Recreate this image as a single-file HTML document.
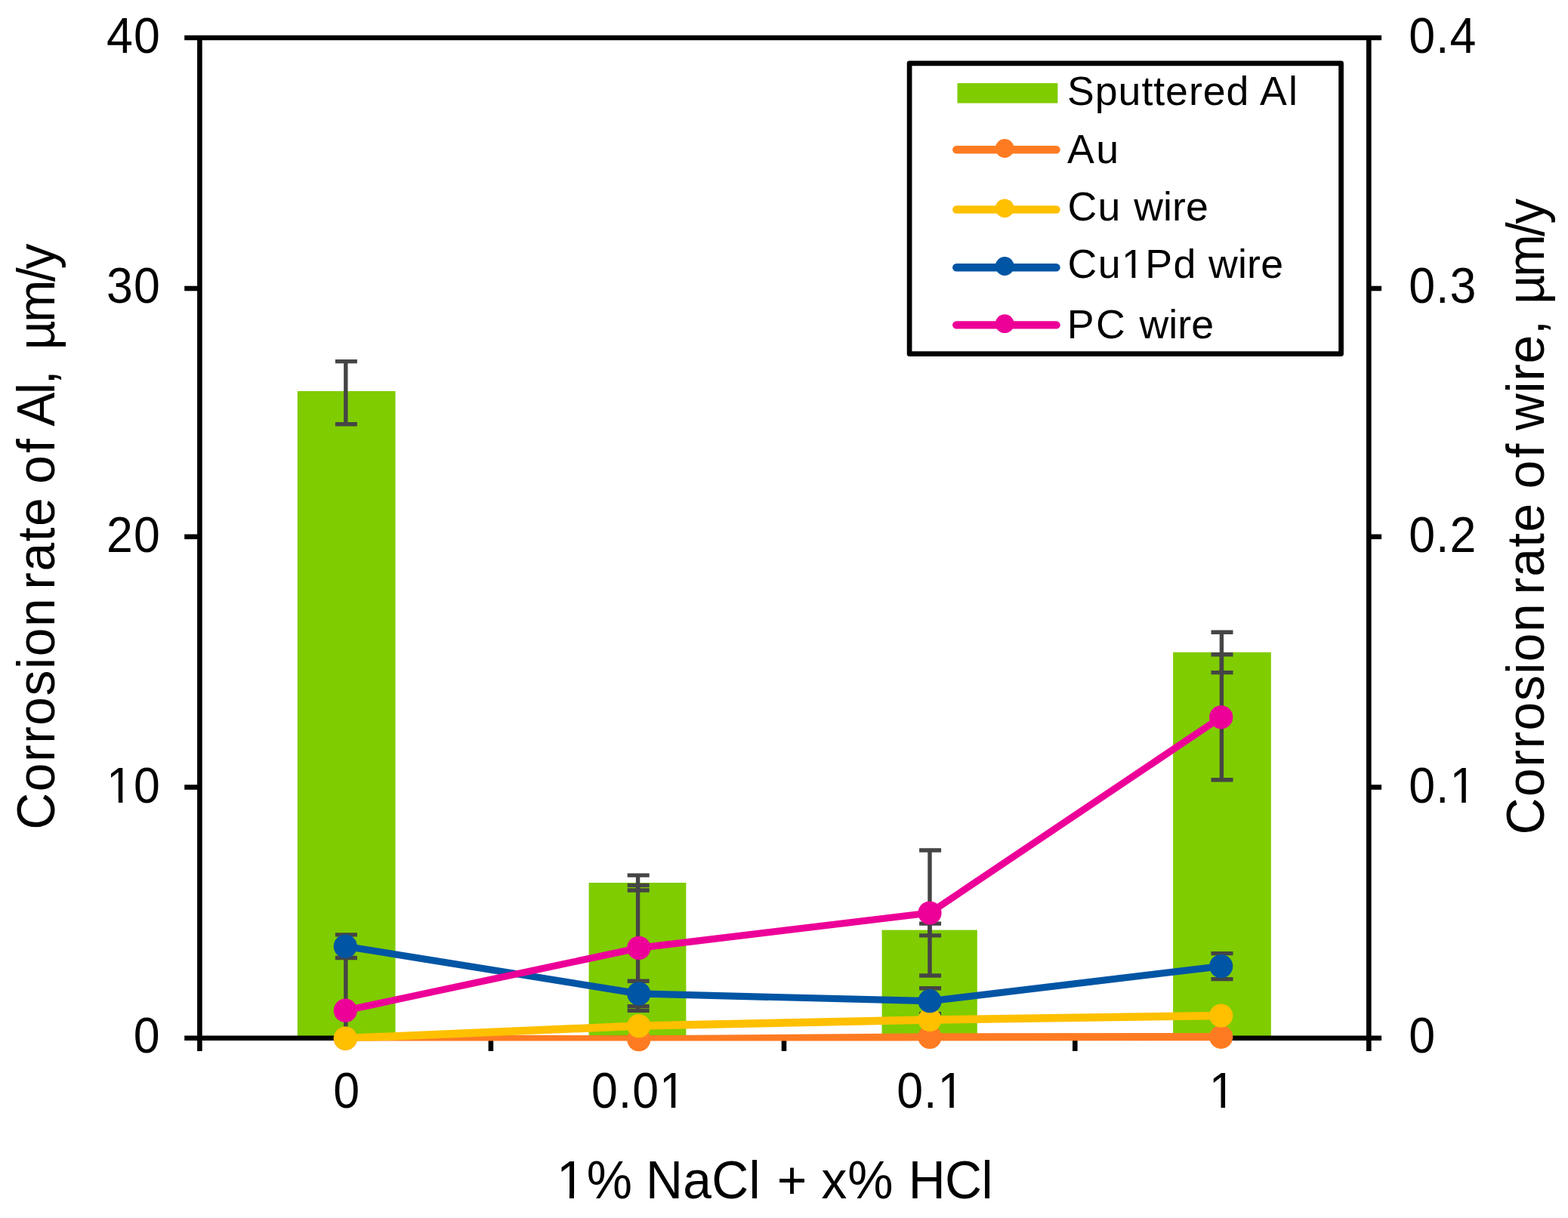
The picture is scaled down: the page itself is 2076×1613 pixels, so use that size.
<!DOCTYPE html>
<html lang="en"><head><meta charset="utf-8"><title>Corrosion rate</title>
<style>
html,body{margin:0;padding:0;background:#fff;}
body{width:2076px;height:1613px;overflow:hidden;}
svg{display:block;}
text{font-family:"Liberation Sans",sans-serif;fill:#000;}
</style></head><body>
<svg width="2076" height="1613" viewBox="0 0 2076 1613">
<defs><clipPath id="plot"><rect x="264.4" y="40.0" width="1547.9" height="1338.6"/></clipPath></defs>
<rect x="0" y="0" width="2076" height="1613" fill="#ffffff"/>
<g fill="#7fcc00">
<rect x="393.8" y="518.0" width="129.7" height="856.8"/>
<rect x="779.6" y="1169.0" width="128.8" height="205.8"/>
<rect x="1167.6" y="1231.6" width="126.2" height="143.2"/>
<rect x="1553.1" y="863.8" width="129.7" height="511.0"/>
</g>
<g fill="none" stroke="#454545" stroke-width="5.4">
<path d="M457.8 478.6V561.8M443.9 478.6H472.9M443.9 561.8H472.9"/>
<path d="M844.6 1159.1V1179.0M830.7 1159.1H859.7M830.7 1179.0H859.7"/>
<path d="M1231.0 1223.1V1238.9M1217.1 1223.1H1246.1M1217.1 1238.9H1246.1"/>
<path d="M1617.4 837.2V890.6M1603.5 837.2H1632.5M1603.5 890.6H1632.5"/>
<path d="M457.8 1237.9V1268.5M443.9 1237.9H472.9M443.9 1268.5H472.9"/>
<path d="M844.6 1299.2V1332.6M830.7 1299.2H859.7M830.7 1332.6H859.7"/>
<path d="M1231.0 1308.8V1342.6M1217.1 1308.8H1246.1M1217.1 1342.6H1246.1"/>
<path d="M1617.4 1262.6V1296.6M1603.5 1262.6H1632.5M1603.5 1296.6H1632.5"/>
<path d="M457.8 1255.2V1374.8M443.9 1255.2H472.9"/>
<path d="M844.6 1172.4V1338.4M830.7 1172.4H859.7M830.7 1338.4H859.7"/>
<path d="M1231.0 1126.0V1292.0M1217.1 1126.0H1246.1M1217.1 1292.0H1246.1"/>
<path d="M1617.4 866.8V1032.8M1603.5 866.8H1632.5M1603.5 1032.8H1632.5"/>
</g>
<g fill="none" stroke="#000" stroke-width="6.6">
<path d="M244.2 50.0H1829.1"/>
<path d="M244.2 1374.8H1829.1"/>
<path d="M264.4 50.0V1391.9"/>
<path d="M1812.3 50.0V1391.9"/>
<path d="M244.2 382.0H264.4"/>
<path d="M1812.3 382.0H1829.1"/>
<path d="M244.2 710.8H264.4"/>
<path d="M1812.3 710.8H1829.1"/>
<path d="M244.2 1042.5H264.4"/>
<path d="M1812.3 1042.5H1829.1"/>
<path d="M649.9 1374.8V1391.9"/>
<path d="M1038.0 1374.8V1391.9"/>
<path d="M1423.3 1374.8V1391.9"/>
</g>
<polyline clip-path="url(#plot)" points="457.3,1375.2 845.8,1376.6 1231.0,1373.4 1616.7,1373.3" fill="none" stroke="#ff7b22" stroke-width="10.5" stroke-linejoin="round" stroke-linecap="round"/>
<g fill="#ff7b22"><circle cx="457.3" cy="1375.2" r="15.6"/><circle cx="845.8" cy="1376.6" r="15.6"/><circle cx="1231.0" cy="1373.4" r="15.6"/><circle cx="1616.7" cy="1373.3" r="15.6"/></g>
<polyline clip-path="url(#plot)" points="457.3,1375.1 845.8,1358.6 1231.0,1350.5 1616.7,1345.0" fill="none" stroke="#ffc000" stroke-width="10.5" stroke-linejoin="round" stroke-linecap="round"/>
<g fill="#ffc000"><circle cx="457.3" cy="1375.1" r="15.6"/><circle cx="845.8" cy="1358.6" r="15.6"/><circle cx="1231.0" cy="1350.5" r="15.6"/><circle cx="1616.7" cy="1345.0" r="15.6"/></g>
<polyline clip-path="url(#plot)" points="457.3,1253.2 845.8,1315.9 1231.0,1325.7 1616.7,1279.6" fill="none" stroke="#0055a4" stroke-width="9.2" stroke-linejoin="round" stroke-linecap="round"/>
<g fill="#0055a4"><circle cx="457.3" cy="1253.2" r="15.6"/><circle cx="845.8" cy="1315.9" r="15.6"/><circle cx="1231.0" cy="1325.7" r="15.6"/><circle cx="1616.7" cy="1279.6" r="15.6"/></g>
<polyline clip-path="url(#plot)" points="457.3,1338.2 845.8,1255.4 1231.0,1209.0 1616.7,949.8" fill="none" stroke="#ec0098" stroke-width="9.2" stroke-linejoin="round" stroke-linecap="round"/>
<g fill="#ec0098"><circle cx="457.3" cy="1338.2" r="15.6"/><circle cx="845.8" cy="1255.4" r="15.6"/><circle cx="1231.0" cy="1209.0" r="15.6"/><circle cx="1616.7" cy="949.8" r="15.6"/></g>
<g>
<text transform="translate(141.10,69.60) scale(0.9500,1)" font-size="66.0" letter-spacing="1.00">40</text>
<text transform="translate(141.10,400.80) scale(0.9500,1)" font-size="66.0" letter-spacing="1.00">30</text>
<text transform="translate(141.10,730.70) scale(0.9500,1)" font-size="66.0" letter-spacing="1.00">20</text>
<g transform="translate(141.10,1063.20) scale(0.9500,1)"><text font-size="66.0" letter-spacing="1.00">10</text><rect x="3.43" y="-5.93" width="13.17" height="6.93" fill="#fff"/><rect x="22.43" y="-5.93" width="12.69" height="6.93" fill="#fff"/></g>
<text transform="translate(176.85,1394.40) scale(0.9500,1)" font-size="66.0" letter-spacing="1.00">0</text>
<text transform="translate(1865.29,69.60) scale(0.9500,1)" font-size="66.0" letter-spacing="1.00">0.4</text>
<text transform="translate(1865.29,400.80) scale(0.9500,1)" font-size="66.0" letter-spacing="1.00">0.3</text>
<text transform="translate(1865.29,730.70) scale(0.9500,1)" font-size="66.0" letter-spacing="1.00">0.2</text>
<g transform="translate(1865.29,1063.20) scale(0.9500,1)"><text font-size="66.0" letter-spacing="1.00">0.1</text><rect x="60.47" y="-5.93" width="13.17" height="6.93" fill="#fff"/><rect x="79.47" y="-5.93" width="12.69" height="6.93" fill="#fff"/></g>
<text transform="translate(1865.29,1394.40) scale(0.9500,1)" font-size="66.0" letter-spacing="1.00">0</text>
<text transform="translate(441.16,1467.40) scale(0.9500,1)" font-size="66.0" letter-spacing="1.00">0</text>
<g transform="translate(782.96,1467.40) scale(0.9500,1)"><text font-size="66.0" letter-spacing="1.00">0.01</text><rect x="98.18" y="-5.93" width="13.17" height="6.93" fill="#fff"/><rect x="117.18" y="-5.93" width="12.69" height="6.93" fill="#fff"/></g>
<g transform="translate(1187.27,1467.40) scale(0.9500,1)"><text font-size="66.0" letter-spacing="1.00">0.1</text><rect x="60.47" y="-5.93" width="13.17" height="6.93" fill="#fff"/><rect x="79.47" y="-5.93" width="12.69" height="6.93" fill="#fff"/></g>
<g transform="translate(1600.76,1467.40) scale(0.9500,1)"><text font-size="66.0" letter-spacing="1.00">1</text><rect x="3.43" y="-5.93" width="13.17" height="6.93" fill="#fff"/><rect x="22.43" y="-5.93" width="12.69" height="6.93" fill="#fff"/></g>
</g>
<g transform="translate(0,1586.70) scale(0.9750,1)"><text font-size="69.5"><tspan x="755.78" letter-spacing="2.20">1%</tspan> <tspan x="876.83" letter-spacing="0.36">NaCl</tspan> <tspan x="1055.11">+</tspan> <tspan x="1115.34" letter-spacing="0.92">x%</tspan> <tspan x="1233.55" letter-spacing="-0.53">HCl</tspan></text><g transform="translate(755.78,0)"><rect x="3.61" y="-6.19" width="13.87" height="7.19" fill="#fff"/><rect x="23.62" y="-6.19" width="13.36" height="7.19" fill="#fff"/></g></g>
<g transform="translate(71.80,0) rotate(-90) scale(0.9750,1)"><text font-size="69.5"><tspan x="-1126.86" letter-spacing="1.61">Corrosion</tspan> <tspan x="-800.69" letter-spacing="1.58">rate</tspan> <tspan x="-657.11" letter-spacing="3.18">of</tspan> <tspan x="-579.25" letter-spacing="-2.43">Al,</tspan> <tspan x="-475.46" letter-spacing="-2.46">µm/y</tspan></text></g>
<g transform="translate(2044.20,0) rotate(-90) scale(0.9750,1)"><text font-size="69.5"><tspan x="-1133.83" letter-spacing="1.60">Corrosion</tspan> <tspan x="-807.77" letter-spacing="1.38">rate</tspan> <tspan x="-663.98" letter-spacing="3.18">of</tspan> <tspan x="-584.72" letter-spacing="0.72">wire,</tspan> <tspan x="-413.31" letter-spacing="-2.76">µm/y</tspan></text></g>
<rect x="1204.1" y="83.8" width="571.5" height="384.8" fill="#fff" stroke="#000" stroke-width="6.7" stroke-linejoin="round"/>
<rect x="1267.5" y="110.1" width="132.9" height="26.5" fill="#7fcc00"/>
<path d="M1266.3 198.2H1398.5" fill="none" stroke="#ff7b22" stroke-width="10.4" stroke-linecap="round"/>
<circle cx="1330.2" cy="196.5" r="12.4" fill="#ff7b22"/>
<path d="M1266.3 277.5H1398.5" fill="none" stroke="#ffc000" stroke-width="10.4" stroke-linecap="round"/>
<circle cx="1330.2" cy="275.8" r="12.4" fill="#ffc000"/>
<path d="M1266.3 354.2H1398.5" fill="none" stroke="#0055a4" stroke-width="10.4" stroke-linecap="round"/>
<circle cx="1330.2" cy="352.5" r="12.4" fill="#0055a4"/>
<path d="M1266.3 430.4H1398.5" fill="none" stroke="#ec0098" stroke-width="10.4" stroke-linecap="round"/>
<circle cx="1330.2" cy="428.7" r="12.4" fill="#ec0098"/>
<g transform="translate(0,139.20) scale(0.9850,1)"><text font-size="54.5"><tspan x="1434.60" letter-spacing="0.96">Sputtered</tspan> <tspan x="1693.47" letter-spacing="2.11">Al</tspan></text></g>
<g transform="translate(0,216.00) scale(0.9850,1)"><text font-size="54.5"><tspan x="1434.48" letter-spacing="2.43">Au</tspan></text></g>
<g transform="translate(0,292.10) scale(0.9850,1)"><text font-size="54.5"><tspan x="1435.14" letter-spacing="1.21">Cu</tspan> <tspan x="1524.16" letter-spacing="0.04">wire</tspan></text></g>
<g transform="translate(0,368.40) scale(0.9850,1)"><text font-size="54.5"><tspan x="1435.14" letter-spacing="1.42">Cu1Pd</tspan> <tspan x="1624.26" letter-spacing="0.27">wire</tspan></text><g transform="translate(1435.14,0)"><rect x="75.35" y="-5.07" width="10.87" height="6.07" fill="#fff"/><rect x="91.03" y="-5.07" width="10.47" height="6.07" fill="#fff"/></g></g>
<g transform="translate(0,447.80) scale(0.9850,1)"><text font-size="54.5"><tspan x="1434.18" letter-spacing="2.70">PC</tspan> <tspan x="1531.47" letter-spacing="0.04">wire</tspan></text></g>
</svg>
</body></html>
